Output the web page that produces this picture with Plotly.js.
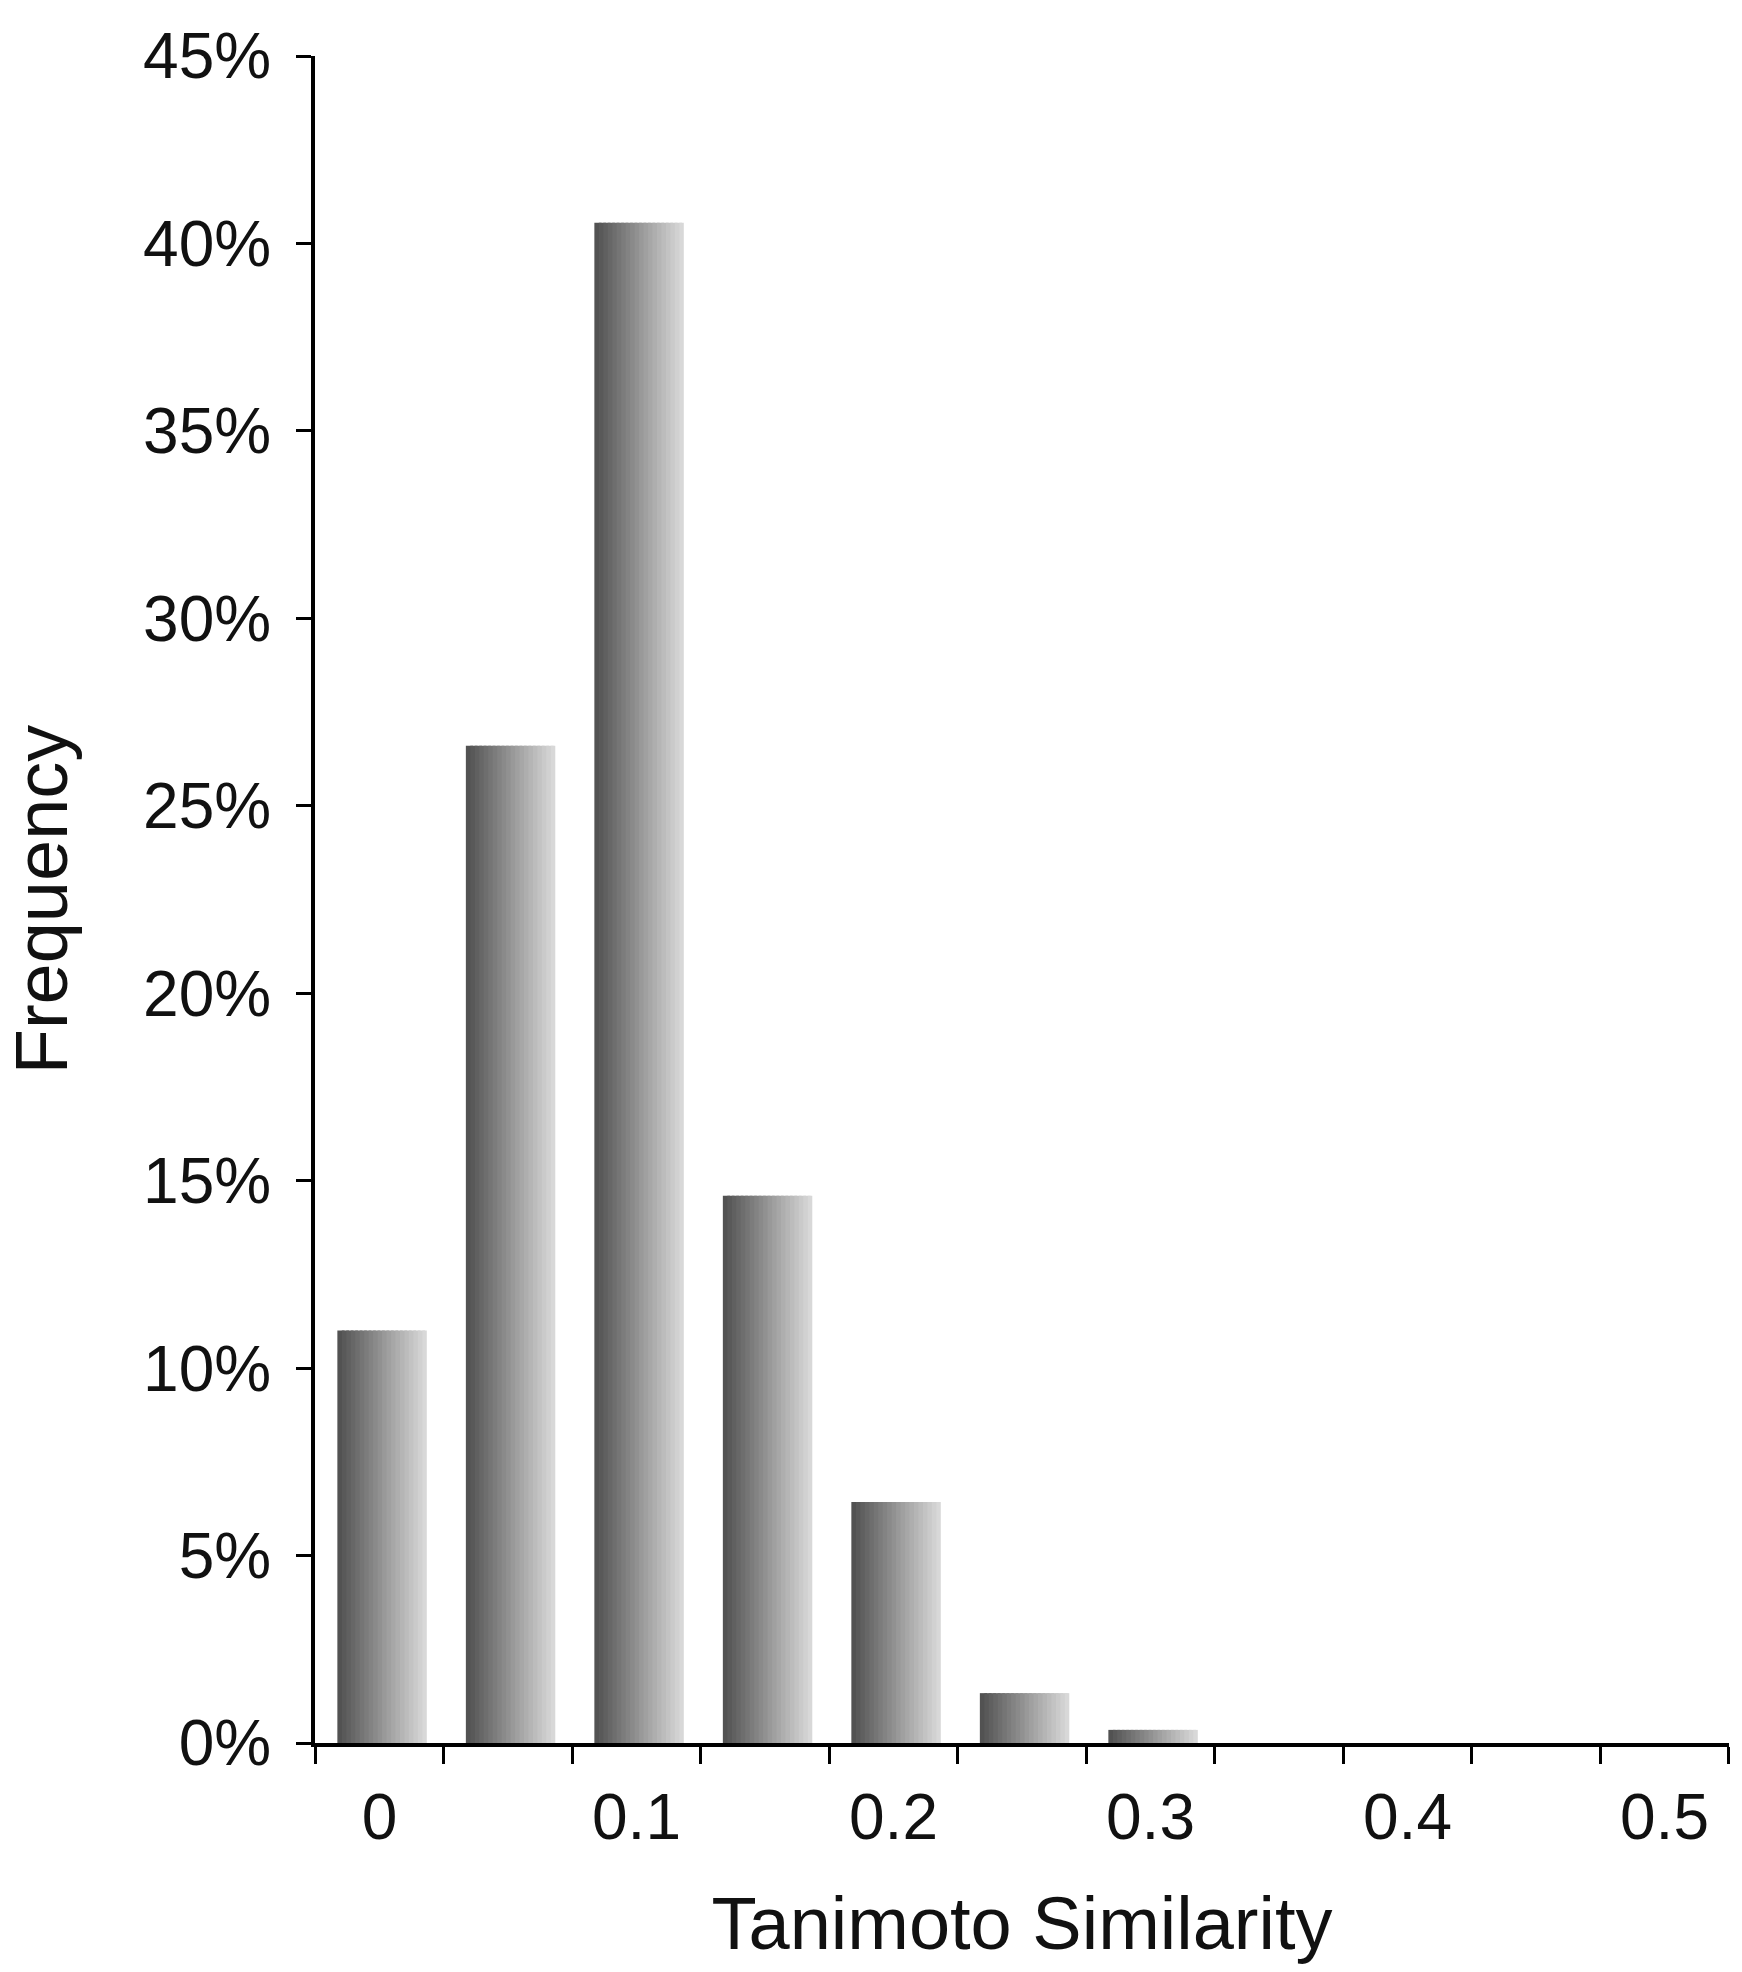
<!DOCTYPE html>
<html>
<head>
<meta charset="utf-8">
<script src="https://cdn.plot.ly/plotly-3.0.1.min.js"></script>
<style>html,body{margin:0;padding:0;background:#fff;}#chart{width:1742px;height:1972px;}</style>
</head>
<body>
<div id="chart"></div>
<script>
// Data
const similarity = [0, 0.05, 0.1, 0.15, 0.2, 0.25, 0.3, 0.35, 0.4, 0.45, 0.5];
const frequency = [11.0, 26.6, 40.55, 14.6, 6.43, 1.33, 0.35, 0, 0, 0, 0];
const xTickVals = [0, 0.1, 0.2, 0.3, 0.4, 0.5];
const xTickText = ['0', '0.1', '0.2', '0.3', '0.4', '0.5'];

// Bar look: horizontal grey gradient emulated with thin slices
const barWidth = 0.0348;
const barShift = 0.001;
const nSlices = 20;
const darkVal = 0x52, lightVal = 0xd8;

const traces = [];
for (let i = 0; i < nSlices; i++) {
  const t = i / (nSlices - 1);
  const v = Math.round(darkVal + (lightVal - darkVal) * t);
  const sw = barWidth / nSlices;
  traces.push({
    type: 'bar',
    x: similarity,
    y: frequency,
    width: similarity.map(() => (i < nSlices - 1 ? sw * 1.6 : sw)),
    offset: similarity.map(() => -barWidth / 2 + barShift + i * sw),
    marker: { color: `rgb(${v},${v},${v})`, line: { width: 0 } },
    hoverinfo: 'skip',
    showlegend: false
  });
}

const txt = '#111111';
const font = 'Liberation Sans, Arial, sans-serif';

const layout = {
  width: 1742,
  height: 1972,
  margin: { l: 315, r: 13, t: 56, b: 229 },
  paper_bgcolor: '#ffffff',
  plot_bgcolor: '#ffffff',
  barmode: 'overlay',
  showlegend: false,
  font: { family: font, color: txt },
  xaxis: {
    type: 'linear',
    range: [-0.0251, 0.5251],
    tickmode: 'array',
    tickvals: xTickVals,
    ticktext: xTickText,
    ticks: 'outside',
    ticklen: 15,
    tickwidth: 1,
    tickcolor: 'rgba(0,0,0,0)',
    ticklabelstandoff: 0,
    minor: { tickmode: 'linear', tick0: -0.025, dtick: 0.05, ticks: 'outside', ticklen: 17, tickwidth: 3, tickcolor: '#000', showgrid: false },
    showline: true,
    linewidth: 4,
    linecolor: '#000',
    showgrid: false,
    zeroline: false,
    tickfont: { family: font, size: 64, color: txt },
    title: { text: 'Tanimoto Similarity', font: { family: font, size: 74, color: txt }, standoff: 46 }
  },
  yaxis: {
    range: [0, 45],
    tickmode: 'linear',
    tick0: 0,
    dtick: 5,
    ticksuffix: '%',
    ticks: 'outside',
    ticklen: 15,
    tickwidth: 3,
    tickcolor: '#000',
    ticklabelstandoff: 12,
    showline: true,
    linewidth: 4,
    linecolor: '#000',
    showgrid: false,
    zeroline: false,
    tickfont: { family: font, size: 64, color: txt },
    title: { text: 'Frequency', font: { family: font, size: 74, color: txt }, standoff: 66 }
  }
};

Plotly.newPlot('chart', traces, layout, { staticPlot: true, displayModeBar: false });
</script>
</body>
</html>
